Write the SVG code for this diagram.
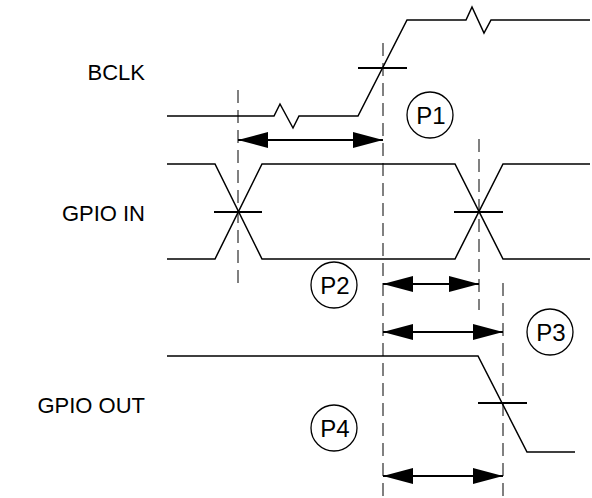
<svg xmlns="http://www.w3.org/2000/svg" width="592" height="498" viewBox="0 0 592 498">
<style>
  .lbl { font-family: "Liberation Sans", Arial, sans-serif; font-size: 22px; fill: #000; }
  .sig { fill: none; stroke: #000; stroke-width: 1.5; stroke-linejoin: miter; }
  .xh { stroke: #000; stroke-width: 2; }
  .guide { stroke: #808080; stroke-width: 2; stroke-dasharray: 13 7; fill: none; }
  .dim { stroke: #000; stroke-width: 2; fill: none; marker-start: url(#ah); marker-end: url(#ah); }
  .tag circle { fill: #fff; stroke: #000; stroke-width: 1.3; }
  .tag text { font-family: "Liberation Sans", Arial, sans-serif; font-size: 24px; text-anchor: middle; }
</style>
<defs>
  <marker id="ah" markerUnits="userSpaceOnUse" markerWidth="30" markerHeight="16" refX="30" refY="8" orient="auto-start-reverse">
    <path d="M0,0 L30,8 L0,16 z" fill="#000"/>
  </marker>
</defs>
<rect width="592" height="498" fill="#fff"/>

<g id="labels">
  <text class="lbl" x="145" y="80" text-anchor="end">BCLK</text>
  <text class="lbl" x="145" y="221" text-anchor="end">GPIO IN</text>
  <text class="lbl" x="145" y="413" text-anchor="end">GPIO OUT</text>
</g>

<g id="guides">
  <line class="guide" x1="238" y1="90" x2="238" y2="283"/>
  <line class="guide" x1="383" y1="43" x2="383" y2="498"/>
  <line class="guide" x1="479" y1="139" x2="479" y2="310"/>
  <line class="guide" x1="503" y1="283" x2="503" y2="498"/>
</g>

<g id="bclk">
  <polyline class="sig" points="167,116 274,116 280,104 293,128 299,116 358,116 407,20 466,20 472,7 484,33 491,20 590,20"/>
  <line class="xh" x1="358" y1="68" x2="407" y2="68"/>
</g>

<g id="gpio-in">
  <polyline class="sig" points="167,164 215,164 262,259 455,259 503,164 590,164"/>
  <polyline class="sig" points="167,259 215,259 262,164 455,164 503,259 590,259"/>
  <line class="xh" x1="214" y1="212" x2="262" y2="212"/>
  <line class="xh" x1="454" y1="212" x2="503" y2="212"/>
</g>

<g id="gpio-out">
  <polyline class="sig" points="167,356 478,356 527,452 575,452"/>
  <line class="xh" x1="478" y1="403" x2="527" y2="403"/>
</g>

<g id="connectors">
  <line class="dim" x1="238" y1="140" x2="383" y2="140"/>
  <line class="dim" x1="383" y1="284" x2="479" y2="284"/>
  <line class="dim" x1="383" y1="332" x2="503" y2="332"/>
  <line class="dim" x1="383" y1="476" x2="503" y2="476"/>
</g>

<g id="P1" class="tag"><circle cx="430" cy="115" r="23"/><text x="431" y="123.5">P1</text></g>
<g id="P2" class="tag"><circle cx="334" cy="285" r="23"/><text x="335" y="293.5">P2</text></g>
<g id="P3" class="tag"><circle cx="550" cy="332" r="23"/><text x="551" y="340.5">P3</text></g>
<g id="P4" class="tag"><circle cx="334" cy="428" r="23"/><text x="335" y="436.5">P4</text></g>
</svg>
